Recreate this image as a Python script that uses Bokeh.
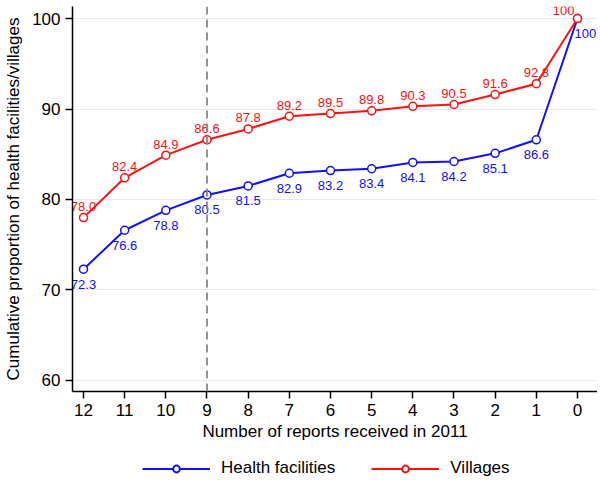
from bokeh.plotting import figure
from bokeh.layouts import column
from bokeh.models import Range1d, Span, Legend, LegendItem
from bokeh.core.properties import value
from bokeh.embed import file_html
from bokeh.resources import INLINE

reports = [12, 11, 10, 9, 8, 7, 6, 5, 4, 3, 2, 1, 0]
health = [72.3, 76.6, 78.8, 80.5, 81.5, 82.9, 83.2, 83.4, 84.1, 84.2, 85.1, 86.6, 100]
villages = [78.0, 82.4, 84.9, 86.6, 87.8, 89.2, 89.5, 89.8, 90.3, 90.5, 91.6, 92.8, 100]
health_labels = ["72.3", "76.6", "78.8", "80.5", "81.5", "82.9", "83.2", "83.4", "84.1", "84.2", "85.1", "86.6", "100"]
village_labels = ["78.0", "82.4", "84.9", "86.6", "87.8", "89.2", "89.5", "89.8", "90.3", "90.5", "91.6", "92.8", "100"]
series_names = ["Health facilities", "Villages"]
y_ticks = [60, 70, 80, 90, 100]
cut_off = 9

BLUE = "#1010ff"
RED = "#ff1010"
FONT = "Liberation Sans"

p = figure(frame_width=525, frame_height=385,
           x_range=Range1d(12.267, -0.486), y_range=Range1d(58.78, 101.33),
           output_backend="svg", toolbar_location=None,
           min_border_left=72, min_border_right=0, min_border_top=6, min_border_bottom=50)
p.outline_line_color = None
p.background_fill_color = "white"
p.xgrid.visible = False
p.ygrid.grid_line_color = "#e3eaee"
p.ygrid.grid_line_width = 1.2
p.xaxis.ticker = reports
p.yaxis.ticker = y_ticks

for ax in (p.xaxis, p.yaxis):
    ax.axis_line_width = 1.5
    ax.axis_line_color = "black"
    ax.major_tick_line_width = 1.5
    ax.major_tick_out = 7
    ax.major_tick_in = 0
    ax.minor_tick_out = 0
    ax.minor_tick_in = 0
    ax.major_label_text_font = FONT
    ax.major_label_text_font_size = "17px"
    ax.major_label_text_color = "black"
    ax.axis_label_text_font = FONT
    ax.axis_label_text_font_size = "17px"
    ax.axis_label_text_font_style = "normal"
    ax.axis_label_text_color = "black"

p.xaxis.axis_label = "Number of reports received in 2011"
p.yaxis.axis_label = "Cumulative proportion of health facilities/villages"
p.xaxis.major_label_standoff = 5
p.xaxis.axis_label_standoff = 3
p.yaxis.major_label_standoff = 5
p.yaxis.axis_label_standoff = 6

p.add_layout(Span(location=cut_off, dimension="height", line_color="#888888",
                  line_width=1.8, line_dash="8 5"))

p.line(reports, health, line_color=BLUE, line_width=2)
p.scatter(reports, health, marker="circle", size=8, line_color=BLUE,
          line_width=1.5, fill_color="white")
p.line(reports, villages, line_color=RED, line_width=2)
p.scatter(reports, villages, marker="circle", size=8, line_color=RED,
          line_width=1.5, fill_color="white")

p.text(reports[:-1], villages[:-1], text=village_labels[:-1], text_color=RED,
       text_font=value(FONT), text_font_size="13px", text_align="center",
       text_baseline="middle", y_offset=-11)
p.text(reports[:-1], health[:-1], text=health_labels[:-1], text_color=BLUE,
       text_font=value(FONT), text_font_size="13px", text_align="center",
       text_baseline="middle", y_offset=15)
p.text(reports[-1:], villages[-1:], text=village_labels[-1:], text_color=RED,
       text_font=value(FONT), text_font_size="13px", text_align="right",
       text_baseline="middle", x_offset=-3, y_offset=-8)
p.text(reports[-1:], health[-1:], text=health_labels[-1:], text_color=BLUE,
       text_font=value(FONT), text_font_size="13px", text_align="left",
       text_baseline="middle", x_offset=-3, y_offset=15)

# legend strip below the chart (series drawn out of its view, only the keys show)
lf = figure(width=597, height=42, output_backend="svg", toolbar_location=None,
            x_range=Range1d(0, 1), y_range=Range1d(0, 1), min_border=0)
lf.axis.visible = False
lf.grid.visible = False
lf.outline_line_color = None
items = []
for name, col, ser in zip(series_names, [BLUE, RED], [health, villages]):
    rl = lf.line(reports, ser, line_color=col, line_width=2)
    rs = lf.scatter(reports, ser, marker="circle", size=6, line_color=col,
                    line_width=2, fill_color="white")
    items.append(LegendItem(label=name, renderers=[rl, rs]))
legend = Legend(items=items, orientation="horizontal", location=(70, 7),
                glyph_width=68, glyph_height=17, label_standoff=11, spacing=36,
                border_line_color=None, background_fill_alpha=0,
                padding=0, margin=0, label_text_color="black",
                label_text_font=FONT, label_text_font_size="17px")
lf.add_layout(legend, "center")

layout = column(p, lf, spacing=0)
open("out.html", "w").write(file_html(layout, INLINE))
